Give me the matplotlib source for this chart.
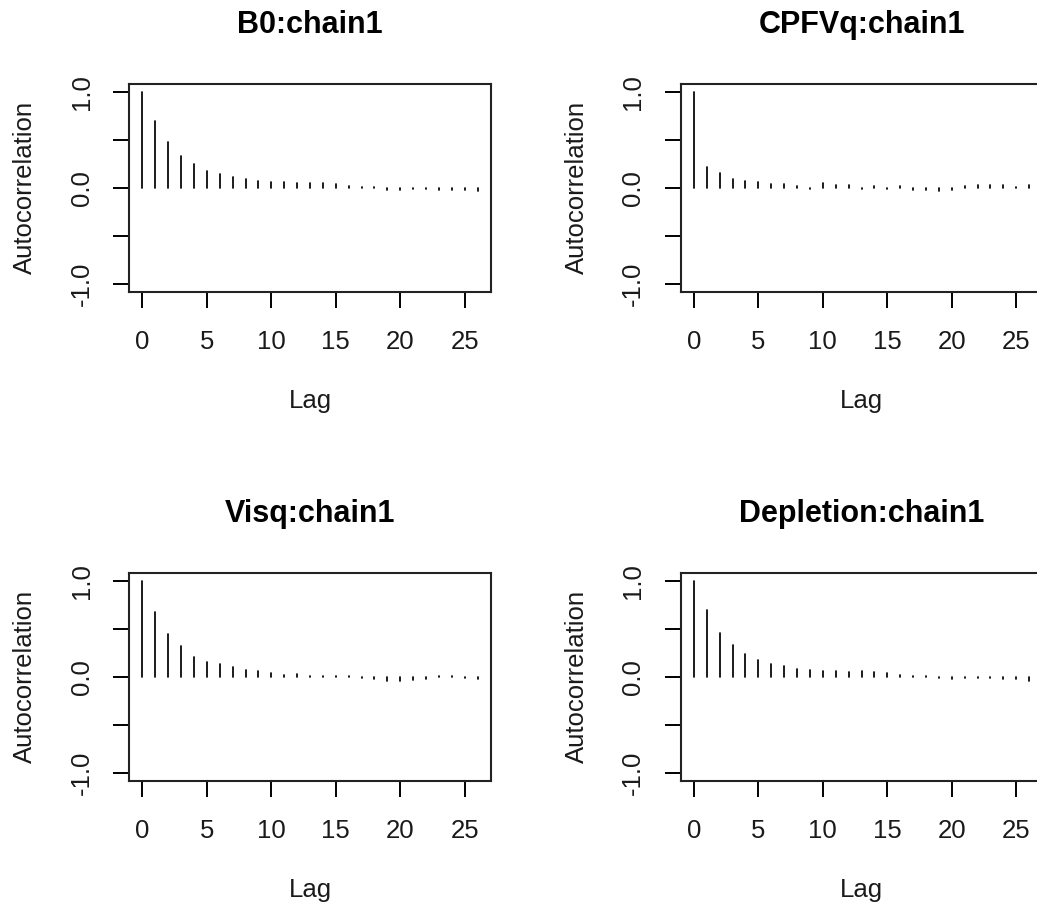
import matplotlib.pyplot as plt
import numpy as np

# autocorrelation per lag
lags = [0, 1, 2, 3, 4, 5, 6, 7, 8, 9, 10, 11, 12, 13, 14, 15, 16, 17, 18, 19, 20, 21, 22, 23, 24, 25, 26]

acf_b0 = [1.0, 0.69, 0.475, 0.335, 0.245, 0.175, 0.14, 0.112, 0.09, 0.07, 0.062, 0.055, 0.052,
          0.052, 0.05, 0.034, 0.018, 0.01, 0.005, -0.02, -0.02, -0.015, -0.015, -0.02, -0.02,
          -0.025, -0.035]
acf_cpfvq = [1.0, 0.22, 0.15, 0.09, 0.07, 0.055, 0.04, 0.04, 0.02, -0.01, 0.045, 0.03, 0.03,
             -0.01, 0.015, -0.015, 0.02, -0.02, -0.02, -0.03, -0.02, 0.015, 0.025, 0.025, 0.025,
             0.01, 0.025]
acf_visq = [1.0, 0.67, 0.45, 0.32, 0.21, 0.15, 0.13, 0.10, 0.07, 0.06, 0.04, 0.02, 0.027,
            0.01, 0.005, 0.007, 0.005, -0.015, -0.02, -0.04, -0.04, -0.035, -0.025, 0.005, 0.01,
            -0.015, -0.02]
acf_depl = [1.0, 0.69, 0.46, 0.33, 0.24, 0.17, 0.13, 0.11, 0.085, 0.07, 0.06, 0.055, 0.05,
            0.055, 0.05, 0.035, 0.015, 0.01, 0.005, -0.015, -0.02, -0.01, -0.01, -0.015, -0.02,
            -0.025, -0.04]

titles = ["B0:chain1", "CPFVq:chain1", "Visq:chain1", "Depletion:chain1"]
series = [acf_b0, acf_cpfvq, acf_visq, acf_depl]

plt.rcParams['font.family'] = ['Liberation Sans', 'DejaVu Sans']

W, H = 1037, 909
fig = plt.figure(figsize=(W / 100, H / 100), dpi=100)

# box positions in pixels: (left, top)
boxes = [(129, 84), (680.5, 84), (129, 573), (680.5, 573)]
bw, bh = 362, 207.5

for (x0, y0), title, acf in zip(boxes, titles, series):
    ax = fig.add_axes([x0 / W, 1 - (y0 + bh) / H, bw / W, bh / H])
    ax.vlines(lags, 0, acf, colors='black', linewidth=1.25, capstyle='round')
    ax.set_xlim(-1.04, 27.04)
    ax.set_ylim(-1.08, 1.08)
    ax.set_xticks([0, 5, 10, 15, 20, 25])
    ax.set_yticks([-1.0, -0.5, 0.0, 0.5, 1.0])
    ax.set_yticklabels(["-1.0", "", "0.0", "", "1.0"])
    ax.tick_params(axis='both', direction='out', length=11.5, width=1.4,
                   labelsize=18.5, colors='black', labelcolor='#1a1a1a', pad=16)
    ax.tick_params(axis='y', labelrotation=90, pad=14)
    for lab in ax.get_yticklabels():
        lab.set_va('center')
    for s in ax.spines.values():
        s.set_linewidth(1.5)
        s.set_color('#222222')
    ax.set_title(title, fontsize=22, fontweight='bold', pad=37)
    ax.set_xlabel("Lag", fontsize=18.5, color='#1a1a1a')
    ax.set_ylabel("Autocorrelation", fontsize=18.5, color='#1a1a1a')
    ax.xaxis.set_label_coords(0.5, -0.47)
    ax.yaxis.set_label_coords(-0.254, 0.5)

fig.savefig("out.png", dpi=100)
